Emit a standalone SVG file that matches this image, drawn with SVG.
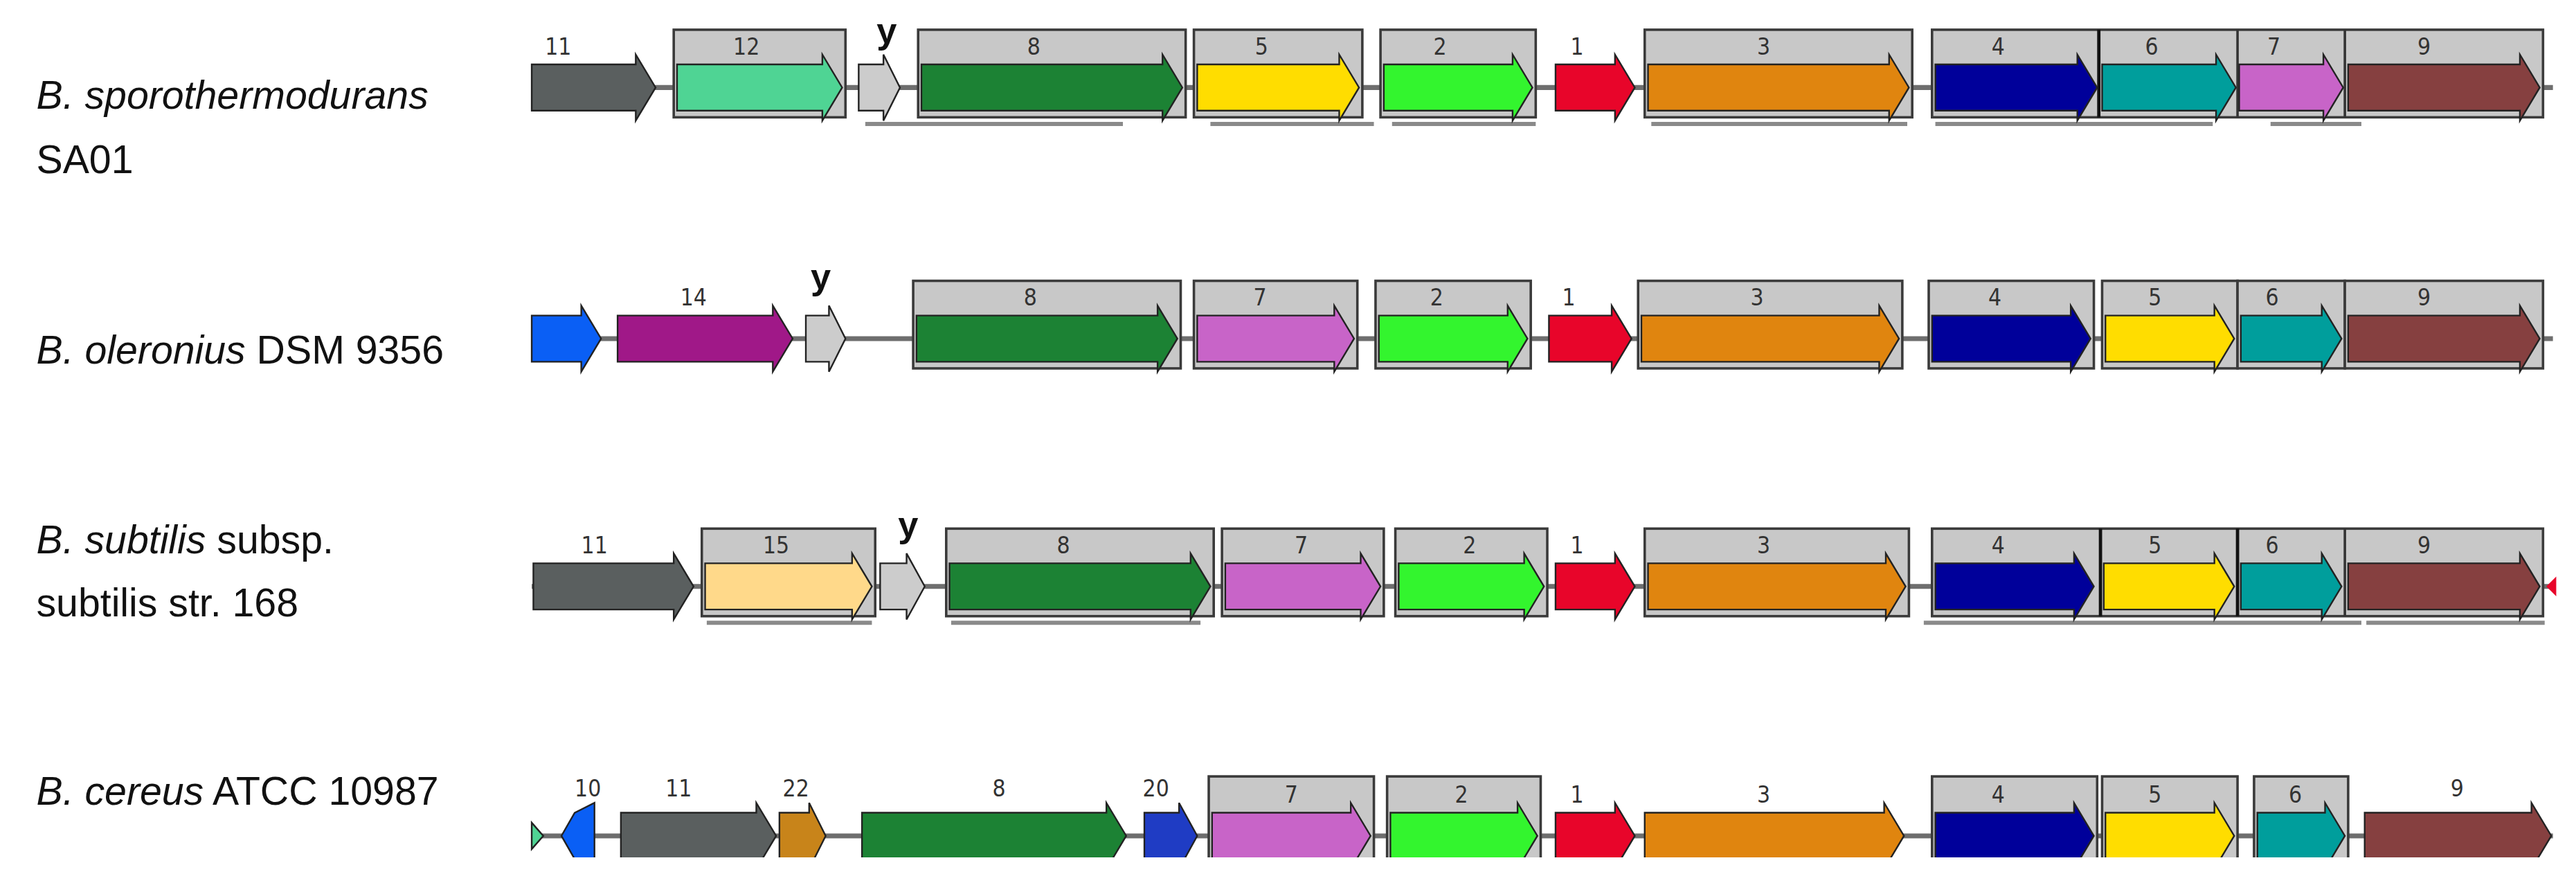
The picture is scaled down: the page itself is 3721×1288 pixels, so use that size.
<svg xmlns="http://www.w3.org/2000/svg" width="3721" height="1288" viewBox="0 0 3721 1288">
<style>
.bx{fill:#c8c8c8;stroke:#3a3a3a;stroke-width:1.5}
.g{stroke:#222;stroke-width:1}
.bb{stroke:#6e6e6e;stroke-width:3}
.n{font-family:"DejaVu Sans Condensed","Liberation Sans",sans-serif;font-size:14px;fill:#333;text-anchor:middle}
.y{font-family:"Liberation Sans",sans-serif;font-size:22px;font-weight:bold;fill:#111;text-anchor:middle}
.sp{font-family:"Liberation Sans",sans-serif;font-size:24px;fill:#111}
.ul{stroke:#8a8a8a;stroke-width:2.5}
</style>
<defs><clipPath id="cl"><rect x="0" y="-60" width="1600" height="73"/></clipPath></defs>
<rect width="3721" height="1288" fill="#fff"/>
<g transform="scale(2.3853)">
<g id="labels">
<text class="sp" x="22" y="66"><tspan font-style="italic">B. sporothermodurans</tspan></text>
<text class="sp" x="22" y="105">SA01</text>
<text class="sp" x="22" y="220"><tspan font-style="italic">B. oleronius</tspan> DSM 9356</text>
<text class="sp" x="22" y="335"><tspan font-style="italic">B. subtilis</tspan> subsp.</text>
<text class="sp" x="22" y="373">subtilis str. 168</text>
<text class="sp" x="22" y="487"><tspan font-style="italic">B. cereus</tspan> ATCC 10987</text>
</g>
<g id="connectors">
<line class="bb" x1="322" y1="53" x2="1546" y2="53"/>
<line class="bb" x1="322" y1="205" x2="1546" y2="205"/>
<line class="bb" x1="322" y1="355" x2="1546" y2="355"/>
<line class="bb" x1="322" y1="506" x2="1546" y2="506"/>
</g>
<g id="row1" transform="translate(0,53)">
<rect class="bx" x="408" y="-35" width="104" height="53"/>
<rect class="bx" x="556" y="-35" width="162" height="53"/>
<rect class="bx" x="723" y="-35" width="102" height="53"/>
<rect class="bx" x="836" y="-35" width="94" height="53"/>
<rect class="bx" x="996" y="-35" width="162" height="53"/>
<rect class="bx" x="1170" y="-35" width="370" height="53"/>
<line stroke="#111" stroke-width="2" x1="1271" y1="-35" x2="1271" y2="18"/><line stroke="#333" stroke-width="1.5" x1="1355" y1="-35" x2="1355" y2="18"/><line stroke="#333" stroke-width="1.5" x1="1420" y1="-35" x2="1420" y2="18"/>
<line class="ul" x1="524" y1="22" x2="680" y2="22"/><line class="ul" x1="733" y1="22" x2="832" y2="22"/><line class="ul" x1="843" y1="22" x2="930" y2="22"/><line class="ul" x1="1000" y1="22" x2="1155" y2="22"/><line class="ul" x1="1172" y1="22" x2="1340" y2="22"/><line class="ul" x1="1375" y1="22" x2="1430" y2="22"/>
<polygon class="g" fill="#5a5f5f" points="322,-14 385,-14 385,-20 397,0 385,20 385,14 322,14"/>
<polygon class="g" fill="#4fd494" points="410,-14 498,-14 498,-20 510,0 498,20 498,14 410,14"/>
<polygon class="g" fill="#cccccc" points="520,-14 535,-14 535,-20 545,0 535,20 535,14 520,14"/>
<polygon class="g" fill="#1c8234" points="558,-14 704,-14 704,-20 716,0 704,20 704,14 558,14"/>
<polygon class="g" fill="#ffdd00" points="725,-14 811,-14 811,-20 823,0 811,20 811,14 725,14"/>
<polygon class="g" fill="#33f52e" points="838,-14 916,-14 916,-20 928,0 916,20 916,14 838,14"/>
<polygon class="g" fill="#e8052a" points="942,-14 978,-14 978,-20 990,0 978,20 978,14 942,14"/>
<polygon class="g" fill="#e0850f" points="998,-14 1144,-14 1144,-20 1156,0 1144,20 1144,14 998,14"/>
<polygon class="g" fill="#00009a" points="1172,-14 1258,-14 1258,-20 1270,0 1258,20 1258,14 1172,14"/>
<polygon class="g" fill="#009e9c" points="1273,-14 1342,-14 1342,-20 1354,0 1342,20 1342,14 1273,14"/>
<polygon class="g" fill="#c864c8" points="1356,-14 1407,-14 1407,-20 1419,0 1407,20 1407,14 1356,14"/>
<polygon class="g" fill="#864040" points="1422,-14 1526,-14 1526,-20 1538,0 1526,20 1526,14 1422,14"/>
<text class="n" x="338" y="-20">11</text><text class="n" x="452" y="-20">12</text><text class="y" x="537" y="-27">y</text>
<text class="n" x="626" y="-20">8</text><text class="n" x="764" y="-20">5</text><text class="n" x="872" y="-20">2</text><text class="n" x="955" y="-20">1</text>
<text class="n" x="1068" y="-20">3</text><text class="n" x="1210" y="-20">4</text><text class="n" x="1303" y="-20">6</text><text class="n" x="1377" y="-20">7</text><text class="n" x="1468" y="-20">9</text>
</g>
<g id="row2" transform="translate(0,205)">
<rect class="bx" x="553" y="-35" width="162" height="53"/>
<rect class="bx" x="723" y="-35" width="99" height="53"/>
<rect class="bx" x="833" y="-35" width="94" height="53"/>
<rect class="bx" x="992" y="-35" width="160" height="53"/>
<rect class="bx" x="1168" y="-35" width="100" height="53"/>
<rect class="bx" x="1273" y="-35" width="82" height="53"/>
<rect class="bx" x="1355" y="-35" width="65" height="53"/>
<rect class="bx" x="1420" y="-35" width="120" height="53"/>
<polygon class="g" fill="#0a5ff5" points="322,-14 352,-14 352,-20 364,0 352,20 352,14 322,14"/>
<polygon class="g" fill="#a01888" points="374,-14 468,-14 468,-20 480,0 468,20 468,14 374,14"/>
<polygon class="g" fill="#cccccc" points="488,-14 502,-14 502,-20 512,0 502,20 502,14 488,14"/>
<polygon class="g" fill="#1c8234" points="555,-14 701,-14 701,-20 713,0 701,20 701,14 555,14"/>
<polygon class="g" fill="#c864c8" points="725,-14 808,-14 808,-20 820,0 808,20 808,14 725,14"/>
<polygon class="g" fill="#33f52e" points="835,-14 913,-14 913,-20 925,0 913,20 913,14 835,14"/>
<polygon class="g" fill="#e8052a" points="938,-14 976,-14 976,-20 988,0 976,20 976,14 938,14"/>
<polygon class="g" fill="#e0850f" points="994,-14 1138,-14 1138,-20 1150,0 1138,20 1138,14 994,14"/>
<polygon class="g" fill="#00009a" points="1170,-14 1254,-14 1254,-20 1266,0 1254,20 1254,14 1170,14"/>
<polygon class="g" fill="#ffdd00" points="1275,-14 1341,-14 1341,-20 1353,0 1341,20 1341,14 1275,14"/>
<polygon class="g" fill="#009e9c" points="1357,-14 1406,-14 1406,-20 1418,0 1406,20 1406,14 1357,14"/>
<polygon class="g" fill="#864040" points="1422,-14 1526,-14 1526,-20 1538,0 1526,20 1526,14 1422,14"/>
<text class="n" x="420" y="-20">14</text><text class="y" x="497" y="-30">y</text>
<text class="n" x="624" y="-20">8</text><text class="n" x="763" y="-20">7</text><text class="n" x="870" y="-20">2</text><text class="n" x="950" y="-20">1</text>
<text class="n" x="1064" y="-20">3</text><text class="n" x="1208" y="-20">4</text><text class="n" x="1305" y="-20">5</text><text class="n" x="1376" y="-20">6</text><text class="n" x="1468" y="-20">9</text>
</g>
<g id="row3" transform="translate(0,355)">
<rect class="bx" x="425" y="-35" width="105" height="53"/>
<rect class="bx" x="573" y="-35" width="162" height="53"/>
<rect class="bx" x="740" y="-35" width="98" height="53"/>
<rect class="bx" x="845" y="-35" width="92" height="53"/>
<rect class="bx" x="996" y="-35" width="160" height="53"/>
<rect class="bx" x="1170" y="-35" width="370" height="53"/>
<line stroke="#111" stroke-width="2" x1="1272" y1="-35" x2="1272" y2="18"/><line stroke="#111" stroke-width="2" x1="1355" y1="-35" x2="1355" y2="18"/><line stroke="#333" stroke-width="1.5" x1="1420" y1="-35" x2="1420" y2="18"/>
<line class="ul" x1="576" y1="22" x2="727" y2="22"/><line class="ul" x1="428" y1="22" x2="528" y2="22"/><line class="ul" x1="1165" y1="22" x2="1430" y2="22"/><line class="ul" x1="1433" y1="22" x2="1541" y2="22"/>
<polygon class="g" fill="#5a5f5f" points="323,-14 408,-14 408,-20 420,0 408,20 408,14 323,14"/>
<polygon class="g" fill="#ffd98a" points="427,-14 516,-14 516,-20 528,0 516,20 516,14 427,14"/>
<polygon class="g" fill="#cccccc" points="533,-14 549,-14 549,-20 560,0 549,20 549,14 533,14"/>
<polygon class="g" fill="#1c8234" points="575,-14 721,-14 721,-20 733,0 721,20 721,14 575,14"/>
<polygon class="g" fill="#c864c8" points="742,-14 824,-14 824,-20 836,0 824,20 824,14 742,14"/>
<polygon class="g" fill="#33f52e" points="847,-14 923,-14 923,-20 935,0 923,20 923,14 847,14"/>
<polygon class="g" fill="#e8052a" points="942,-14 978,-14 978,-20 990,0 978,20 978,14 942,14"/>
<polygon class="g" fill="#e0850f" points="998,-14 1142,-14 1142,-20 1154,0 1142,20 1142,14 998,14"/>
<polygon class="g" fill="#00009a" points="1172,-14 1256,-14 1256,-20 1268,0 1256,20 1256,14 1172,14"/>
<polygon class="g" fill="#ffdd00" points="1274,-14 1341,-14 1341,-20 1353,0 1341,20 1341,14 1274,14"/>
<polygon class="g" fill="#009e9c" points="1357,-14 1406,-14 1406,-20 1418,0 1406,20 1406,14 1357,14"/>
<polygon class="g" fill="#864040" points="1422,-14 1526,-14 1526,-20 1538,0 1526,20 1526,14 1422,14"/>
<polygon fill="#e8052a" points="1548,-6 1542,0 1548,6"/>
<text class="n" x="360" y="-20">11</text><text class="n" x="470" y="-20">15</text><text class="y" x="550" y="-30">y</text>
<text class="n" x="644" y="-20">8</text><text class="n" x="788" y="-20">7</text><text class="n" x="890" y="-20">2</text><text class="n" x="955" y="-20">1</text>
<text class="n" x="1068" y="-20">3</text><text class="n" x="1210" y="-20">4</text><text class="n" x="1305" y="-20">5</text><text class="n" x="1376" y="-20">6</text><text class="n" x="1468" y="-20">9</text>
</g>
<g id="row4" transform="translate(0,506)">
<g clip-path="url(#cl)">
<rect class="bx" x="732" y="-36" width="100" height="60"/>
<rect class="bx" x="840" y="-36" width="93" height="60"/>
<rect class="bx" x="1170" y="-36" width="100" height="60"/>
<rect class="bx" x="1273" y="-36" width="82" height="60"/>
<rect class="bx" x="1365" y="-36" width="57" height="60"/>
<polygon class="g" fill="#4fd494" points="322,-8 329,0 322,8"/>
<polygon class="g" fill="#0a5ff5" points="360,-20 360,20 348,14 340,0 348,-14"/>
<polygon class="g" fill="#5a5f5f" points="376,-14 458,-14 458,-20 470,0 458,20 458,14 376,14"/>
<polygon class="g" fill="#c8841a" points="472,-14 490,-14 490,-20 500,0 490,20 490,14 472,14"/>
<polygon class="g" fill="#1c8234" points="522,-14 670,-14 670,-20 682,0 670,20 670,14 522,14"/>
<polygon class="g" fill="#1f3cc4" points="693,-14 714,-14 714,-20 725,0 714,20 714,14 693,14"/>
<polygon class="g" fill="#c864c8" points="734,-14 818,-14 818,-20 830,0 818,20 818,14 734,14"/>
<polygon class="g" fill="#33f52e" points="842,-14 919,-14 919,-20 931,0 919,20 919,14 842,14"/>
<polygon class="g" fill="#e8052a" points="942,-14 978,-14 978,-20 990,0 978,20 978,14 942,14"/>
<polygon class="g" fill="#e0850f" points="996,-14 1141,-14 1141,-20 1153,0 1141,20 1141,14 996,14"/>
<polygon class="g" fill="#00009a" points="1172,-14 1256,-14 1256,-20 1268,0 1256,20 1256,14 1172,14"/>
<polygon class="g" fill="#ffdd00" points="1275,-14 1341,-14 1341,-20 1353,0 1341,20 1341,14 1275,14"/>
<polygon class="g" fill="#009e9c" points="1367,-14 1408,-14 1408,-20 1420,0 1408,20 1408,14 1367,14"/>
<polygon class="g" fill="#864040" points="1432,-14 1533,-14 1533,-20 1545,0 1533,20 1533,14 1432,14"/>
</g>
<text class="n" x="356" y="-24">10</text><text class="n" x="411" y="-24">11</text><text class="n" x="482" y="-24">22</text>
<text class="n" x="605" y="-24">8</text><text class="n" x="700" y="-24">20</text><text class="n" x="782" y="-20">7</text><text class="n" x="885" y="-20">2</text><text class="n" x="955" y="-20">1</text>
<text class="n" x="1068" y="-20">3</text><text class="n" x="1210" y="-20">4</text><text class="n" x="1305" y="-20">5</text><text class="n" x="1390" y="-20">6</text><text class="n" x="1488" y="-24">9</text>
</g>
</g>
</svg>
